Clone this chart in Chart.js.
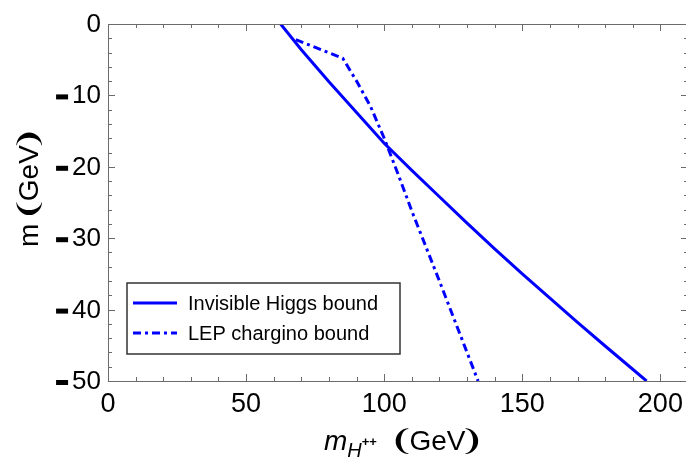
<!DOCTYPE html>
<html>
<head>
<meta charset="utf-8">
<script src="https://cdn.jsdelivr.net/npm/chart.js@4"></script>
<style>
  html, body { margin: 0; padding: 0; background: #fff; overflow: hidden; }
  #wrap { width: 690px; height: 459px; }
</style>
</head>
<body>
<div id="wrap"><canvas id="boundChart" width="690" height="459"></canvas></div>
<script>
// Invisible Higgs bound
const higgsMass = [62.5, 70, 80, 90, 100, 110, 120, 130, 140, 150, 160, 170, 180, 195];
const higgsBound = [0, -3.6, -8.1, -12.4, -16.7, -20.5, -24.2, -27.9, -31.5, -35.0, -38.4, -41.8, -45.1, -50.0];

// LEP chargino bound
const lepMass = [68, 85, 90, 95, 100, 105, 110, 120, 134];
const lepBound = [-2.2, -4.8, -8.0, -11.5, -16.0, -21.0, -26.2, -36.0, -50.0];

const seriesLabels = ['Invisible Higgs bound', 'LEP chargino bound'];
const xTicks = [0, 50, 100, 150, 200];
const yTicks = [0, -10, -20, -30, -40, -50];

const FONT = '"Liberation Sans", Arial, "DejaVu Sans", sans-serif';
const BLUE = '#0000ff';
const FRAME = '#6b6b6b';
const DASH = [8, 4, 3, 4];

const toPoints = (xs, ys) => xs.map((x, i) => ({ x: x, y: ys[i] }));

// "(GeV)" with heavy brackets, drawn tight; x is where the left bracket ink starts
function drawUnits(ctx, x, y) {
    ctx.font = '28px ' + FONT;
    ctx.textAlign = 'left';
    const lb = '\u2768', rb = '\u2769';
    const mL = ctx.measureText(lb);
    const inkL = mL.actualBoundingBoxLeft;   // negative when the glyph has left bearing
    ctx.fillText(lb, x + inkL, y);
    let cx = x + inkL + mL.actualBoundingBoxRight + 0.5;
    ctx.fillText('GeV', cx, y);
    cx += ctx.measureText('GeV').width;
    const mR = ctx.measureText(rb);
    ctx.fillText(rb, cx + mR.actualBoundingBoxLeft - 0.5, y);
}

// frame with inward ticks, tick labels, axis titles and the boxed legend
const framePlugin = {
    id: 'frame',
    afterDraw(chart) {
        const ctx = chart.ctx;
        const { left, right, top, bottom } = chart.chartArea;
        const xs = chart.scales.x;
        const ys = chart.scales.y;

        ctx.save();
        ctx.strokeStyle = FRAME;
        ctx.lineWidth = 1;
        ctx.strokeRect(left + 0.5, top + 0.5, right - left, bottom - top);

        ctx.beginPath();
        for (let v = 0; v <= 210; v += 10) {
            const px = Math.round(xs.getPixelForValue(v)) + 0.5;
            const len = v % 50 === 0 ? 7 : 4;
            ctx.moveTo(px, bottom); ctx.lineTo(px, bottom - len);
            ctx.moveTo(px, top); ctx.lineTo(px, top + len);
        }
        for (let v = -50; v <= 0; v += 2) {
            const py = Math.round(ys.getPixelForValue(v)) + 0.5;
            const len = v % 10 === 0 ? 7 : 4;
            ctx.moveTo(left, py); ctx.lineTo(left + len, py);
            ctx.moveTo(right, py); ctx.lineTo(right - len, py);
        }
        ctx.stroke();

        // tick labels
        ctx.fillStyle = '#000';
        ctx.textBaseline = 'alphabetic';
        ctx.font = '27px ' + FONT;
        ctx.textAlign = 'center';
        xTicks.forEach(v => {
            ctx.fillText(String(v), xs.getPixelForValue(v), 412);
        });

        ctx.font = '26px ' + FONT;
        ctx.textAlign = 'right';
        yTicks.forEach(v => {
            const py = ys.getPixelForValue(v);
            const txt = String(Math.abs(v));
            const xr = left - 7;
            ctx.fillText(txt, xr, py + 8);
            if (v < 0) {
                const w = ctx.measureText(txt).width;
                ctx.fillRect(xr - w - 16, py - 1, 12, 5);
            }
        });

        // y axis title
        ctx.save();
        ctx.translate(38, 247);
        ctx.rotate(-Math.PI / 2);
        ctx.textAlign = 'left';
        ctx.font = '28px ' + FONT;
        ctx.fillText('m', 0, 0);
        drawUnits(ctx, ctx.measureText('m').width + 8, 0);
        ctx.restore();

        // x axis title: m with subscript H and superscript ++
        ctx.textAlign = 'left';
        let cx = 324;
        ctx.font = 'italic 28px ' + FONT;
        ctx.fillText('m', cx, 450);
        cx += ctx.measureText('m').width;
        ctx.font = 'italic 20px ' + FONT;
        ctx.fillText('H', cx, 457);
        cx += ctx.measureText('H').width;
        ctx.font = 'bold 13px ' + FONT;
        ctx.fillText('++', cx, 446);
        drawUnits(ctx, 395, 450);

        // legend
        ctx.fillStyle = '#fff';
        ctx.fillRect(127, 283, 273, 71);
        ctx.strokeStyle = '#333';
        ctx.lineWidth = 1.5;
        ctx.strokeRect(127, 283, 273, 71);
        const rows = [303, 333];
        chart.data.datasets.forEach((ds, i) => {
            ctx.strokeStyle = ds.borderColor;
            ctx.lineWidth = 3;
            ctx.setLineDash(ds.borderDash || []);
            ctx.beginPath();
            ctx.moveTo(133, rows[i]);
            ctx.lineTo(177, rows[i]);
            ctx.stroke();
            ctx.setLineDash([]);
            ctx.fillStyle = '#000';
            ctx.font = '20px ' + FONT;
            ctx.textAlign = 'left';
            ctx.fillText(ds.label, 188, rows[i] + 6.5);
        });
        ctx.restore();
    }
};

new Chart(document.getElementById('boundChart'), {
    type: 'scatter',
    data: {
        datasets: [{
            label: seriesLabels[0],
            data: toPoints(higgsMass, higgsBound),
            showLine: true,
            borderColor: BLUE,
            borderWidth: 3,
            pointRadius: 0,
            tension: 0
        }, {
            label: seriesLabels[1],
            data: toPoints(lepMass, lepBound),
            showLine: true,
            borderColor: BLUE,
            borderWidth: 3,
            borderDash: DASH,
            pointRadius: 0,
            tension: 0
        }]
    },
    options: {
        responsive: false,
        devicePixelRatio: 1,
        animation: false,
        layout: { padding: { top: 24, right: 2, left: 0, bottom: 0 } },
        plugins: {
            legend: { display: false },
            tooltip: { enabled: false }
        },
        scales: {
            x: {
                type: 'linear',
                min: 0,
                max: 210,
                grid: { display: false },
                border: { display: false },
                ticks: { display: false },
                afterFit: scale => { scale.height = 78; }
            },
            y: {
                min: -50,
                max: 0,
                grid: { display: false },
                border: { display: false },
                ticks: { display: false },
                afterFit: scale => { scale.width = 108; }
            }
        }
    },
    plugins: [framePlugin]
});
</script>
</body>
</html>
